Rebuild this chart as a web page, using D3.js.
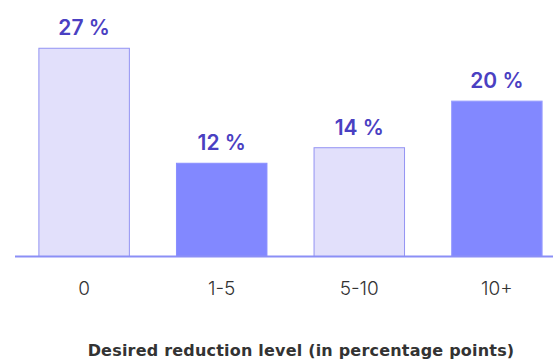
<!DOCTYPE html>
<html><head><meta charset="utf-8">
<script src="https://cdn.jsdelivr.net/npm/d3@7"></script>
<style>body{margin:0;background:#fff}svg{display:block}</style>
</head><body>
<svg id="c" width="553" height="361"></svg>
<script>
const categories = ["0", "1-5", "5-10", "10+"];
const values = [26.8, 12, 14, 20];
const valueLabels = ["27 %", "12 %", "14 %", "20 %"];
const barFills = ["#e2e0fb", "#8288ff", "#e2e0fb", "#8288ff"];
const barStrokes = ["#9393f3", "#8a8fff", "#9393f3", "#9a9fff"];
const axisTitle = "Desired reduction level (in percentage points)";

const svg = d3.select("#c");
const font = "Inter, 'Noto Sans', sans-serif";
const x = d3.scaleBand().domain(categories).range([15, 566]).paddingInner(0.335).paddingOuter(0.17);
const y = d3.scaleLinear().domain([0, 30]).range([256.5, 256.5 - 30 * 7.77]);

svg.selectAll("rect.bar").data(values).join("rect")
  .attr("class", "bar")
  .attr("x", (d, i) => x(categories[i]) + 0.5)
  .attr("y", d => y(d))
  .attr("width", x.bandwidth() - 1)
  .attr("height", d => y(0) - y(d))
  .attr("fill", (d, i) => barFills[i])
  .attr("stroke", (d, i) => barStrokes[i])
  .attr("stroke-width", 1);

svg.selectAll("text.val").data(values).join("text")
  .attr("class", "val")
  .attr("x", (d, i) => x(categories[i]) + x.bandwidth() / 2)
  .attr("y", d => y(d) - 13)
  .attr("text-anchor", "middle")
  .attr("font-family", font)
  .attr("font-size", 21)
  .attr("font-weight", 600)
  .attr("fill", "#4a40c2")
  .text((d, i) => valueLabels[i]);

const xAxis = d3.axisBottom(x).tickSize(0).tickPadding(22);
const g = svg.append("g").attr("transform", `translate(0,${y(0)})`).call(xAxis);
g.select(".domain").remove();
g.selectAll("text").attr("font-family", font).attr("font-size", 19).attr("font-weight", 300)
  .attr("fill", "#333").attr("dy", "0.71em").attr("y", 25);
svg.append("line").attr("x1", 15).attr("x2", 553).attr("y1", y(0)).attr("y2", y(0))
  .attr("stroke", "#8b8ff6").attr("stroke-width", 2);

svg.append("text").attr("x", 301).attr("y", 356)
  .attr("text-anchor", "middle").attr("font-family", "'DejaVu Sans', sans-serif")
  .attr("font-size", 16).attr("font-weight", 700).attr("fill", "#333")
  .attr("letter-spacing", 0.2)
  .text(axisTitle);
</script>
</body></html>
